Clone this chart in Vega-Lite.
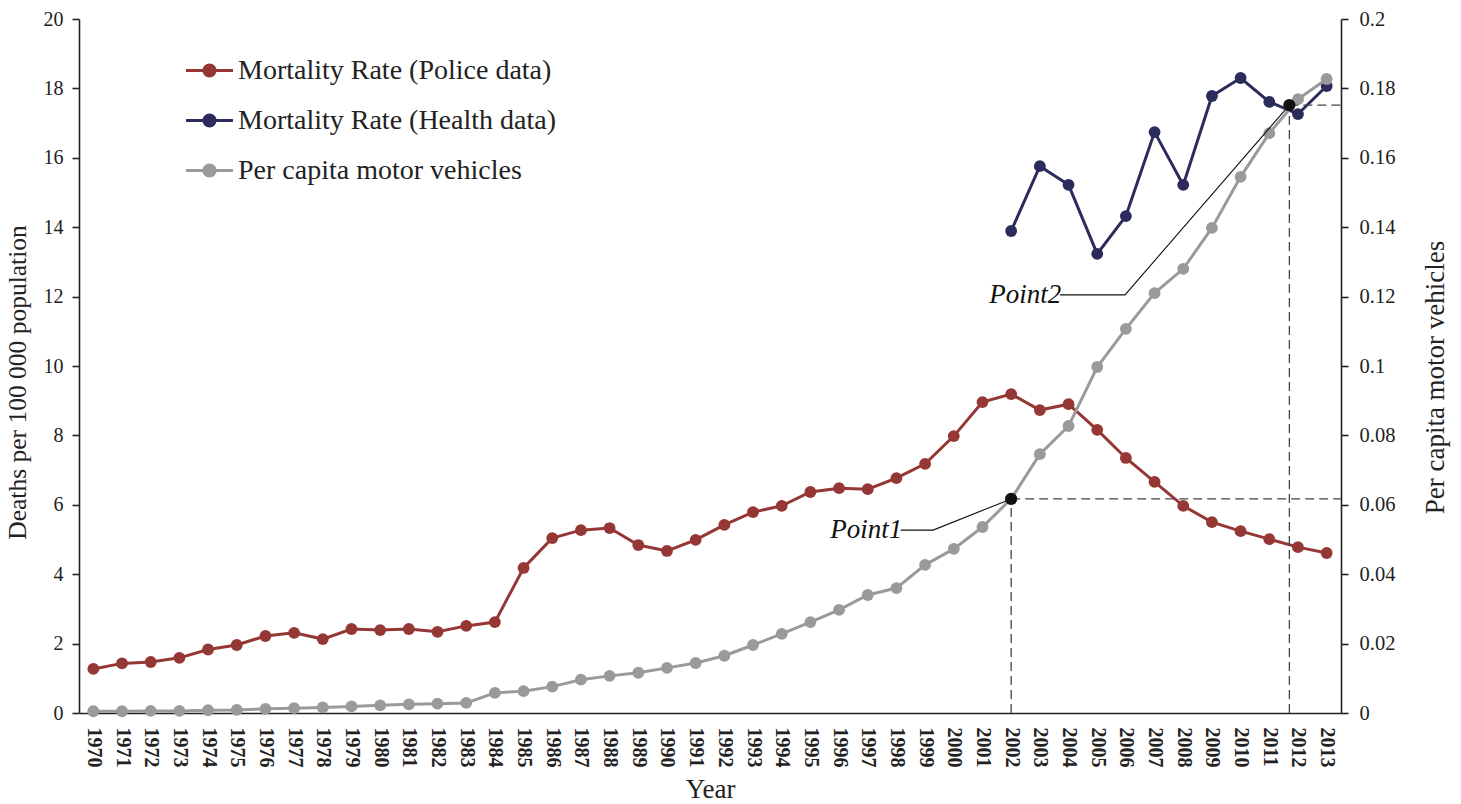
{
  "$schema": "https://vega.github.io/schema/vega-lite/v6.json",
  "width": 1262,
  "height": 694,
  "autosize": {"type": "none"},
  "padding": {"left": 79, "top": 19, "right": 120, "bottom": 91},
  "background": "white",
  "config": {
    "font": "Liberation Serif",
    "view": {"stroke": null},
    "text": {"font": "Liberation Serif"},
    "legend": {"labelFont": "Liberation Serif", "titleFont": "Liberation Serif"},
    "axis": {
      "grid": false,
      "domainColor": "#222",
      "domainWidth": 1.6,
      "tickColor": "#222",
      "tickWidth": 1.6,
      "labelColor": "#222",
      "titleColor": "#222",
      "titleFontWeight": "normal",
      "labelFont": "Liberation Serif",
      "titleFont": "Liberation Serif"
    }
  },
  "datasets": {
    "deaths": [
      {"year": 1970, "series": "Mortality Rate (Police data)", "value": 1.27},
      {"year": 1971, "series": "Mortality Rate (Police data)", "value": 1.43},
      {"year": 1972, "series": "Mortality Rate (Police data)", "value": 1.47},
      {"year": 1973, "series": "Mortality Rate (Police data)", "value": 1.59},
      {"year": 1974, "series": "Mortality Rate (Police data)", "value": 1.83},
      {"year": 1975, "series": "Mortality Rate (Police data)", "value": 1.96},
      {"year": 1976, "series": "Mortality Rate (Police data)", "value": 2.22},
      {"year": 1977, "series": "Mortality Rate (Police data)", "value": 2.31},
      {"year": 1978, "series": "Mortality Rate (Police data)", "value": 2.13},
      {"year": 1979, "series": "Mortality Rate (Police data)", "value": 2.42},
      {"year": 1980, "series": "Mortality Rate (Police data)", "value": 2.39},
      {"year": 1981, "series": "Mortality Rate (Police data)", "value": 2.42},
      {"year": 1982, "series": "Mortality Rate (Police data)", "value": 2.34},
      {"year": 1983, "series": "Mortality Rate (Police data)", "value": 2.51},
      {"year": 1984, "series": "Mortality Rate (Police data)", "value": 2.62},
      {"year": 1985, "series": "Mortality Rate (Police data)", "value": 4.18},
      {"year": 1986, "series": "Mortality Rate (Police data)", "value": 5.04},
      {"year": 1987, "series": "Mortality Rate (Police data)", "value": 5.27},
      {"year": 1988, "series": "Mortality Rate (Police data)", "value": 5.33},
      {"year": 1989, "series": "Mortality Rate (Police data)", "value": 4.84},
      {"year": 1990, "series": "Mortality Rate (Police data)", "value": 4.67},
      {"year": 1991, "series": "Mortality Rate (Police data)", "value": 4.99},
      {"year": 1992, "series": "Mortality Rate (Police data)", "value": 5.42},
      {"year": 1993, "series": "Mortality Rate (Police data)", "value": 5.79},
      {"year": 1994, "series": "Mortality Rate (Police data)", "value": 5.97},
      {"year": 1995, "series": "Mortality Rate (Police data)", "value": 6.37},
      {"year": 1996, "series": "Mortality Rate (Police data)", "value": 6.48},
      {"year": 1997, "series": "Mortality Rate (Police data)", "value": 6.45},
      {"year": 1998, "series": "Mortality Rate (Police data)", "value": 6.77},
      {"year": 1999, "series": "Mortality Rate (Police data)", "value": 7.18},
      {"year": 2000, "series": "Mortality Rate (Police data)", "value": 7.98},
      {"year": 2001, "series": "Mortality Rate (Police data)", "value": 8.96},
      {"year": 2002, "series": "Mortality Rate (Police data)", "value": 9.19},
      {"year": 2003, "series": "Mortality Rate (Police data)", "value": 8.73},
      {"year": 2004, "series": "Mortality Rate (Police data)", "value": 8.9},
      {"year": 2005, "series": "Mortality Rate (Police data)", "value": 8.16},
      {"year": 2006, "series": "Mortality Rate (Police data)", "value": 7.35},
      {"year": 2007, "series": "Mortality Rate (Police data)", "value": 6.66},
      {"year": 2008, "series": "Mortality Rate (Police data)", "value": 5.97},
      {"year": 2009, "series": "Mortality Rate (Police data)", "value": 5.5},
      {"year": 2010, "series": "Mortality Rate (Police data)", "value": 5.24},
      {"year": 2011, "series": "Mortality Rate (Police data)", "value": 5.01},
      {"year": 2012, "series": "Mortality Rate (Police data)", "value": 4.78},
      {"year": 2013, "series": "Mortality Rate (Police data)", "value": 4.61},
      {"year": 2002, "series": "Mortality Rate (Health data)", "value": 13.89},
      {"year": 2003, "series": "Mortality Rate (Health data)", "value": 15.76},
      {"year": 2004, "series": "Mortality Rate (Health data)", "value": 15.22},
      {"year": 2005, "series": "Mortality Rate (Health data)", "value": 13.23},
      {"year": 2006, "series": "Mortality Rate (Health data)", "value": 14.32},
      {"year": 2007, "series": "Mortality Rate (Health data)", "value": 16.74},
      {"year": 2008, "series": "Mortality Rate (Health data)", "value": 15.22},
      {"year": 2009, "series": "Mortality Rate (Health data)", "value": 17.78},
      {"year": 2010, "series": "Mortality Rate (Health data)", "value": 18.3},
      {"year": 2011, "series": "Mortality Rate (Health data)", "value": 17.61},
      {"year": 2012, "series": "Mortality Rate (Health data)", "value": 17.26},
      {"year": 2013, "series": "Mortality Rate (Health data)", "value": 18.07}
    ],
    "vehicles": [
      {"year": 1970, "series": "Per capita motor vehicles", "value": 0.0005},
      {"year": 1971, "series": "Per capita motor vehicles", "value": 0.0005},
      {"year": 1972, "series": "Per capita motor vehicles", "value": 0.0006},
      {"year": 1973, "series": "Per capita motor vehicles", "value": 0.0006},
      {"year": 1974, "series": "Per capita motor vehicles", "value": 0.0008},
      {"year": 1975, "series": "Per capita motor vehicles", "value": 0.0009},
      {"year": 1976, "series": "Per capita motor vehicles", "value": 0.0012},
      {"year": 1977, "series": "Per capita motor vehicles", "value": 0.0014},
      {"year": 1978, "series": "Per capita motor vehicles", "value": 0.0016},
      {"year": 1979, "series": "Per capita motor vehicles", "value": 0.0019},
      {"year": 1980, "series": "Per capita motor vehicles", "value": 0.0022},
      {"year": 1981, "series": "Per capita motor vehicles", "value": 0.0025},
      {"year": 1982, "series": "Per capita motor vehicles", "value": 0.0027},
      {"year": 1983, "series": "Per capita motor vehicles", "value": 0.0029},
      {"year": 1984, "series": "Per capita motor vehicles", "value": 0.0058},
      {"year": 1985, "series": "Per capita motor vehicles", "value": 0.0063},
      {"year": 1986, "series": "Per capita motor vehicles", "value": 0.0076},
      {"year": 1987, "series": "Per capita motor vehicles", "value": 0.0096},
      {"year": 1988, "series": "Per capita motor vehicles", "value": 0.0107},
      {"year": 1989, "series": "Per capita motor vehicles", "value": 0.0116},
      {"year": 1990, "series": "Per capita motor vehicles", "value": 0.0130},
      {"year": 1991, "series": "Per capita motor vehicles", "value": 0.0144},
      {"year": 1992, "series": "Per capita motor vehicles", "value": 0.0165},
      {"year": 1993, "series": "Per capita motor vehicles", "value": 0.0196},
      {"year": 1994, "series": "Per capita motor vehicles", "value": 0.0228},
      {"year": 1995, "series": "Per capita motor vehicles", "value": 0.0262},
      {"year": 1996, "series": "Per capita motor vehicles", "value": 0.0297},
      {"year": 1997, "series": "Per capita motor vehicles", "value": 0.0340},
      {"year": 1998, "series": "Per capita motor vehicles", "value": 0.0360},
      {"year": 1999, "series": "Per capita motor vehicles", "value": 0.0427},
      {"year": 2000, "series": "Per capita motor vehicles", "value": 0.0473},
      {"year": 2001, "series": "Per capita motor vehicles", "value": 0.0536},
      {"year": 2002, "series": "Per capita motor vehicles", "value": 0.0617},
      {"year": 2003, "series": "Per capita motor vehicles", "value": 0.0746},
      {"year": 2004, "series": "Per capita motor vehicles", "value": 0.0827},
      {"year": 2005, "series": "Per capita motor vehicles", "value": 0.0997},
      {"year": 2006, "series": "Per capita motor vehicles", "value": 0.1107},
      {"year": 2007, "series": "Per capita motor vehicles", "value": 0.1210},
      {"year": 2008, "series": "Per capita motor vehicles", "value": 0.1280},
      {"year": 2009, "series": "Per capita motor vehicles", "value": 0.1398},
      {"year": 2010, "series": "Per capita motor vehicles", "value": 0.1545},
      {"year": 2011, "series": "Per capita motor vehicles", "value": 0.1671},
      {"year": 2012, "series": "Per capita motor vehicles", "value": 0.1769},
      {"year": 2013, "series": "Per capita motor vehicles", "value": 0.1827}
    ],
    "guides": [
      {"year": 2002, "year2": 2002, "value": 0, "value2": 0.0617},
      {"year": 2002, "year2": 2013.5, "value": 0.0617, "value2": 0.0617},
      {"year": 2011.7, "year2": 2011.7, "value": 0, "value2": 0.1752},
      {"year": 2011.7, "year2": 2013.5, "value": 0.1752, "value2": 0.1752}
    ],
    "leaders": [
      {"id": "Point1", "step": 1, "year": 1998.15, "value": 0.0527},
      {"id": "Point1", "step": 2, "year": 1999.28, "value": 0.0527},
      {"id": "Point1", "step": 3, "year": 2002, "value": 0.0617},
      {"id": "Point2", "step": 1, "year": 2003.7, "value": 0.1205},
      {"id": "Point2", "step": 2, "year": 2005.97, "value": 0.1205},
      {"id": "Point2", "step": 3, "year": 2011.7, "value": 0.1752}
    ],
    "marked": [
      {"label": "Point1", "year": 2002, "value": 0.0617, "lx": 1998.2, "ly": 0.0527},
      {"label": "Point2", "year": 2011.7, "value": 0.1752, "lx": 2003.75, "ly": 0.1205}
    ]
  },
  "encoding": {
    "x": {
      "field": "year",
      "type": "quantitative",
      "scale": {"domain": [1969.5, 2013.5], "nice": false, "zero": false},
      "axis": {
        "title": "Year",
        "titleFontSize": 27,
        "titlePadding": 9,
        "values": [1970,1971,1972,1973,1974,1975,1976,1977,1978,1979,1980,1981,1982,1983,1984,1985,1986,1987,1988,1989,1990,1991,1992,1993,1994,1995,1996,1997,1998,1999,2000,2001,2002,2003,2004,2005,2006,2007,2008,2009,2010,2011,2012,2013],
        "format": "d",
        "labelAngle": 90,
        "labelFontSize": 20,
        "labelFontWeight": "bold",
        "labelPadding": 14,
        "ticks": false,
        "tickSize": 0,
        "labelOverlap": false,
        "labelFlush": false
      }
    }
  },
  "layer": [
    {
      "data": {"name": "deaths"},
      "encoding": {
        "y": {
          "field": "value",
          "type": "quantitative",
          "scale": {"domain": [0, 20], "nice": false},
          "axis": {
            "orient": "left",
            "title": "Deaths per 100 000 population",
            "titleFontSize": 25.5,
            "titlePadding": 13,
            "titleY": 363,
            "values": [0, 2, 4, 6, 8, 10, 12, 14, 16, 18, 20],
            "labelFontSize": 20,
            "tickSize": 7,
            "labelPadding": 9
          }
        },
        "color": {
          "field": "series",
          "type": "nominal",
          "scale": {
            "domain": ["Mortality Rate (Police data)", "Mortality Rate (Health data)", "Per capita motor vehicles"],
            "range": ["#953735", "#2B2C5C", "#9A9A9D"]
          },
          "legend": {
            "title": null,
            "orient": "none",
            "legendX": 114,
            "legendY": 35,
            "labelFont": "Liberation Serif",
            "labelFontSize": 28,
            "labelLimit": 700,
            "labelColor": "#222",
            "labelOffset": 12,
            "rowPadding": 19,
            "symbolType": "M-1.6,0L1.6,0M0.38,0A0.38,0.38 0 1,1 -0.38,0A0.38,0.38 0 1,1 0.38,0Z",
            "symbolSize": 860,
            "symbolStrokeWidth": 3,
            "encode": {
              "symbols": {
                "update": {
                  "fill": {"scale": "color", "field": "value"},
                  "stroke": {"scale": "color", "field": "value"},
                  "opacity": {"value": 1}
                }
              }
            }
          }
        }
      },
      "layer": [
        {"mark": {"type": "line", "strokeWidth": 3}},
        {"mark": {"type": "circle", "size": 140, "opacity": 1}}
      ]
    },
    {
      "encoding": {
        "y": {
          "field": "value",
          "type": "quantitative",
          "scale": {"domain": [0, 0.2], "nice": false},
          "axis": {
            "orient": "right",
            "title": "Per capita motor vehicles",
            "titleFontSize": 27,
            "titleAngle": 270,
            "titleBaseline": "top",
            "titlePadding": 28,
            "titleY": 358,
            "values": [0, 0.02, 0.04, 0.06, 0.08, 0.1, 0.12, 0.14, 0.16, 0.18, 0.2],
            "format": ".2~f",
            "labelFontSize": 20.5,
            "tickSize": 7,
            "labelPadding": 11
          }
        }
      },
      "layer": [
        {
          "data": {"name": "vehicles"},
          "encoding": {"color": {"field": "series", "type": "nominal"}},
          "layer": [
            {"mark": {"type": "line", "strokeWidth": 3}},
            {"mark": {"type": "circle", "size": 140, "opacity": 1}}
          ]
        },
        {
          "data": {"name": "guides"},
          "mark": {"type": "rule", "color": "#444", "strokeWidth": 1.3, "strokeDash": [9, 5]},
          "encoding": {
            "x2": {"field": "year2"},
            "y2": {"field": "value2"}
          }
        },
        {
          "data": {"name": "leaders"},
          "mark": {"type": "line", "color": "#111", "strokeWidth": 1.1},
          "encoding": {
            "detail": {"field": "id"},
            "order": {"field": "step"}
          }
        },
        {
          "data": {"name": "marked"},
          "mark": {"type": "circle", "size": 150, "color": "#111", "opacity": 1},
          "encoding": {}
        },
        {
          "data": {"name": "marked"},
          "mark": {"type": "text", "fontSize": 27, "fontStyle": "italic", "align": "right", "baseline": "middle", "color": "#111", "font": "Liberation Serif"},
          "encoding": {
            "x": {"field": "lx", "type": "quantitative"},
            "y": {"field": "ly", "type": "quantitative"},
            "text": {"field": "label"}
          }
        }
      ]
    }
  ],
  "resolve": {"scale": {"y": "independent"}}
}
